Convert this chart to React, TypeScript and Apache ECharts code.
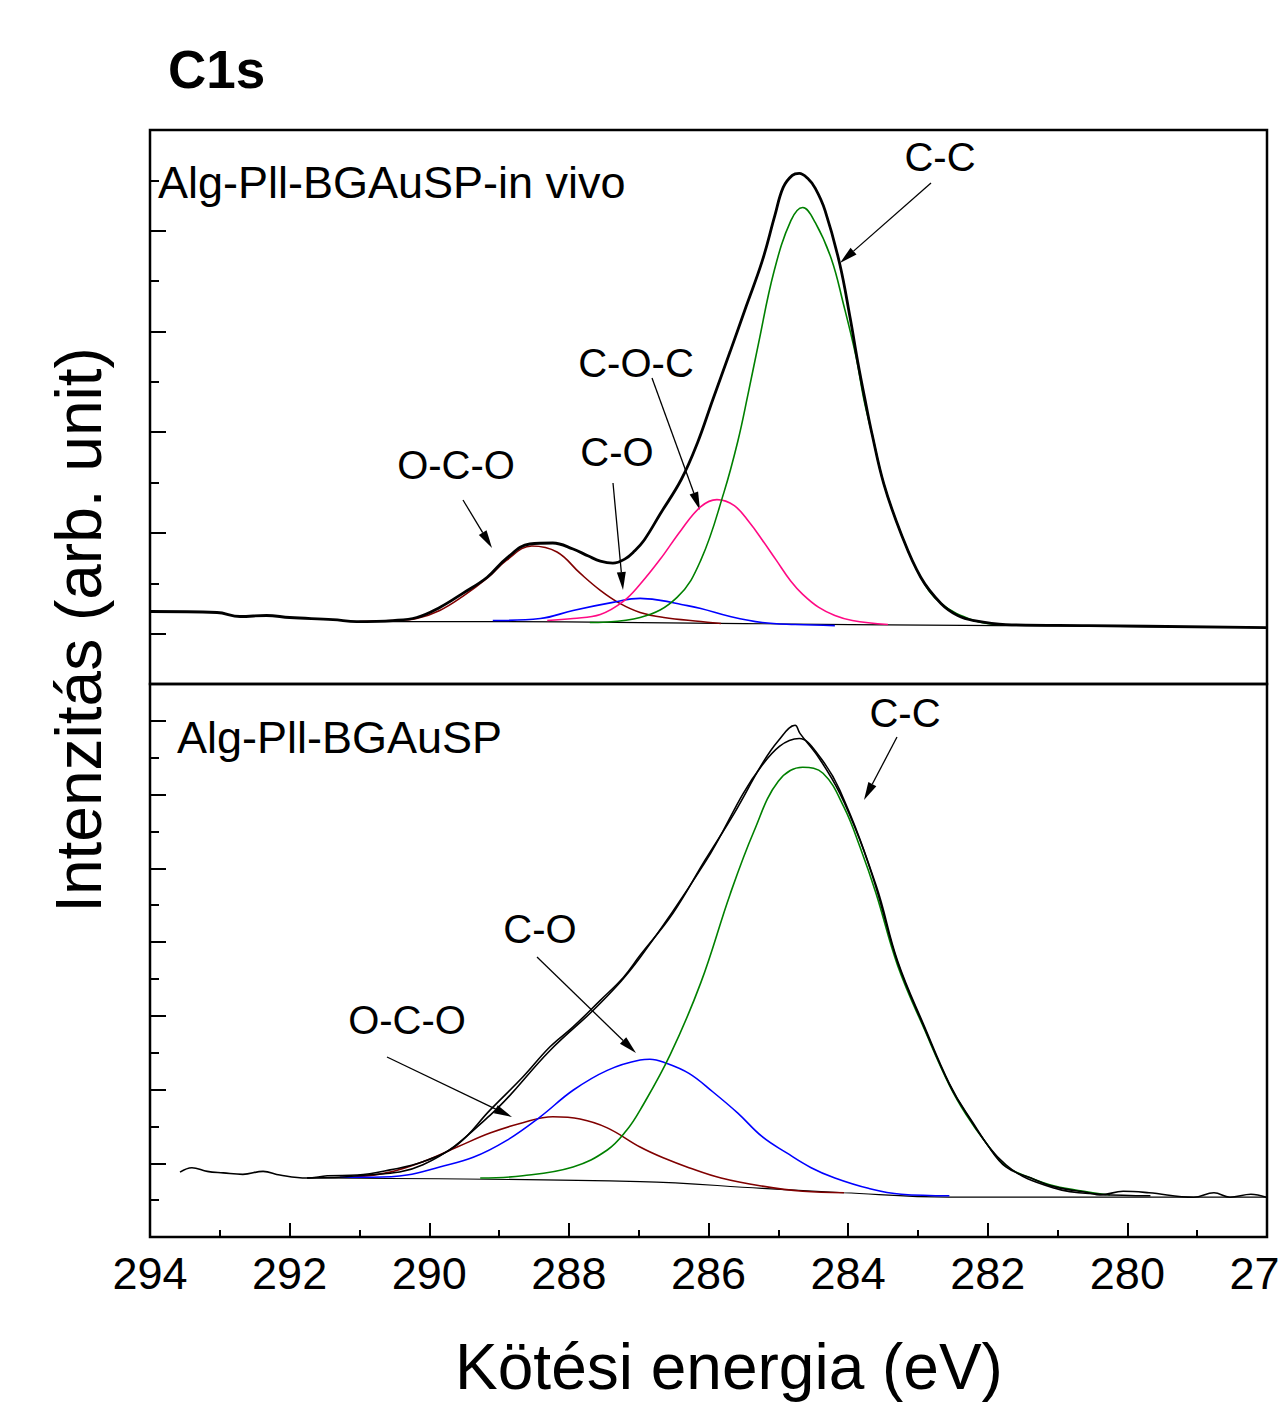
import React, { useEffect, useRef } from "react";
import * as echarts from "echarts";

// ---------- data (binding energy eV, intensity arb. unit) ----------
const xTicks = [294, 292, 290, 288, 286, 284, 282, 280, 278];

// Top panel: Alg-Pll-BGAuSP-in vivo
const topRaw: [number, number][] = [
  [294.0, 0.22], [293.04, 0.21], [292.71, 0.17], [292.33, 0.18], [292.0, 0.16], [291.38, 0.14],
  [291.04, 0.12], [290.52, 0.13], [290.18, 0.16], [289.85, 0.26], [289.52, 0.4], [289.17, 0.56],
  [288.89, 0.75], [288.56, 0.89], [288.23, 0.9], [287.94, 0.84], [287.72, 0.77], [287.55, 0.72],
  [287.37, 0.7], [287.2, 0.74], [287.06, 0.82], [286.92, 0.93], [286.69, 1.19], [286.39, 1.53],
  [286.16, 1.89], [285.94, 2.32], [285.69, 2.8], [285.46, 3.25], [285.23, 3.7], [285.05, 4.15],
  [284.93, 4.43], [284.8, 4.55], [284.7, 4.57], [284.58, 4.52], [284.47, 4.42], [284.33, 4.2],
  [284.12, 3.67], [283.97, 3.13], [283.86, 2.69], [283.74, 2.26], [283.66, 1.99], [283.49, 1.49],
  [283.24, 0.99], [282.96, 0.56], [282.67, 0.3], [282.43, 0.18], [282.2, 0.13], [281.74, 0.09],
  [280.56, 0.08], [278.0, 0.06],
];
const topCC: [number, number][] = [
  [287.7, 0.11], [286.98, 0.16], [286.45, 0.36], [286.11, 0.73], [285.78, 1.4], [285.58, 1.91],
  [285.43, 2.39], [285.29, 2.86], [285.06, 3.6], [284.82, 4.1], [284.65, 4.23], [284.47, 4.08],
  [284.24, 3.72], [284.07, 3.28], [283.89, 2.76], [283.77, 2.31], [283.66, 1.99], [283.49, 1.49],
  [283.24, 0.99], [282.96, 0.56], [282.67, 0.3], [282.2, 0.13], [281.82, 0.09],
];
const topCOC: [number, number][] = [
  [288.31, 0.13], [287.94, 0.15], [287.55, 0.19], [287.22, 0.32], [286.98, 0.49], [286.69, 0.74],
  [286.39, 1.03], [286.11, 1.26], [285.88, 1.33], [285.63, 1.27], [285.41, 1.1], [285.23, 0.93],
  [285.03, 0.73], [284.82, 0.52], [284.65, 0.39], [284.42, 0.26], [284.19, 0.18], [283.94, 0.13],
  [283.43, 0.09],
];
const topCO: [number, number][] = [
  [289.09, 0.13], [288.41, 0.15], [287.94, 0.23], [287.37, 0.31], [286.98, 0.35], [286.69, 0.33],
  [286.39, 0.29], [286.11, 0.25], [285.69, 0.17], [285.23, 0.11], [284.76, 0.09], [284.19, 0.08],
];
const topOCO: [number, number][] = [
  [291.0, 0.12], [290.52, 0.13], [290.18, 0.15], [289.85, 0.23], [289.52, 0.37], [289.17, 0.55],
  [288.89, 0.73], [288.53, 0.87], [288.17, 0.81], [287.84, 0.6], [287.55, 0.43], [287.27, 0.3],
  [286.98, 0.21], [286.64, 0.16], [286.11, 0.12], [285.82, 0.1],
];
const topBg: [number, number][] = [
  [291.0, 0.12], [289.09, 0.12], [286.98, 0.11], [283.97, 0.09], [281.82, 0.08], [278.0, 0.06],
];

// Bottom panel: Alg-Pll-BGAuSP
const botRaw: [number, number][] = [
  [293.57, 0.88], [293.4, 0.94], [293.18, 0.89], [292.95, 0.87], [292.67, 0.85], [292.38, 0.89],
  [292.14, 0.84], [291.75, 0.8], [291.46, 0.83], [291.03, 0.84], [290.56, 0.91], [290.09, 1.02],
  [289.6, 1.25], [289.13, 1.72], [288.66, 2.17], [288.27, 2.58], [287.94, 2.85], [287.55, 3.21],
  [287.22, 3.52], [286.98, 3.82], [286.51, 4.39], [286.05, 5.11], [285.63, 5.75], [285.23, 6.42],
  [285.0, 6.73], [284.76, 6.94], [284.69, 6.83], [284.42, 6.5], [284.12, 6.02], [283.83, 5.38],
  [283.6, 4.74], [283.29, 3.72], [282.9, 2.82], [282.55, 2.07], [282.31, 1.68], [282.02, 1.27],
  [281.74, 0.95], [281.38, 0.8], [281.04, 0.68], [280.56, 0.6], [280.39, 0.57], [280.06, 0.62],
  [279.69, 0.6], [279.05, 0.54], [278.76, 0.6], [278.53, 0.54], [278.23, 0.58], [278.01, 0.54],
];
const botFit: [number, number][] = [
  [291.75, 0.8], [291.03, 0.83], [290.09, 0.98], [289.13, 1.65], [288.27, 2.53], [287.55, 3.17],
  [286.98, 3.79], [286.05, 5.08], [285.23, 6.4], [284.7, 6.76], [284.42, 6.53], [284.12, 6.06],
  [283.6, 4.77], [283.29, 3.74], [282.9, 2.84], [282.55, 2.08], [282.31, 1.69], [281.74, 0.98],
  [281.04, 0.66], [280.39, 0.58], [279.67, 0.56],
];
const botCC: [number, number][] = [
  [289.27, 0.8], [288.66, 0.83], [287.94, 0.95], [287.45, 1.18], [287.17, 1.45], [286.98, 1.72],
  [286.55, 2.47], [286.11, 3.45], [285.69, 4.65], [285.35, 5.5], [285.0, 6.18], [284.65, 6.37],
  [284.36, 6.29], [284.06, 5.83], [283.83, 5.29], [283.6, 4.66], [283.29, 3.68], [282.9, 2.8],
  [282.55, 2.06], [282.31, 1.66], [282.02, 1.27], [281.74, 0.96], [281.38, 0.8], [281.04, 0.69],
  [280.56, 0.61], [280.25, 0.57],
];
const botCO: [number, number][] = [
  [291.28, 0.81], [290.81, 0.81], [290.32, 0.84], [289.85, 0.95], [289.37, 1.08], [288.89, 1.31],
  [288.41, 1.63], [287.94, 1.99], [287.45, 2.26], [286.98, 2.4], [286.84, 2.41], [286.64, 2.37],
  [286.28, 2.22], [285.94, 1.97], [285.58, 1.68], [285.23, 1.36], [284.88, 1.14], [284.53, 0.94],
  [284.19, 0.8], [283.71, 0.66], [283.24, 0.58], [282.55, 0.56],
];
const botOCO: [number, number][] = [
  [291.09, 0.81], [290.56, 0.88], [290.09, 1.02], [289.6, 1.22], [289.13, 1.41], [288.66, 1.55],
  [288.23, 1.63], [287.84, 1.6], [287.45, 1.48], [286.98, 1.22], [286.64, 1.07], [286.28, 0.94],
  [285.82, 0.8], [285.23, 0.69], [284.65, 0.62], [284.06, 0.6],
];
const botBg: [number, number][] = [
  [291.75, 0.8], [286.98, 0.75], [285.23, 0.66], [284.06, 0.6], [282.55, 0.54], [278.01, 0.54],
];

const topMajor = [0, 1, 2, 3, 4];
const topMinor = [0.5, 1.5, 2.5, 3.5, 4.5];
const botMajor = [1, 2, 3, 4, 5, 6, 7];
const botMinor = [0.5, 1.5, 2.5, 3.5, 4.5, 5.5, 6.5];

const FONT = '"Liberation Sans", Arial, sans-serif';

function arrow(x1: number, y1: number, x2: number, y2: number) {
  const dx = x2 - x1, dy = y2 - y1;
  const len = Math.sqrt(dx * dx + dy * dy);
  const ux = dx / len, uy = dy / len;
  const L = 18, W = 4.5;
  const bx = x2 - ux * L, by = y2 - uy * L;
  const px = -uy, py = ux;
  return [
    { type: "line", silent: true, shape: { x1, y1, x2: bx, y2: by }, style: { stroke: "#000", lineWidth: 1.3 } },
    {
      type: "polygon", silent: true,
      shape: { points: [[x2, y2], [bx + px * W, by + py * W], [bx - px * W, by - py * W]] },
      style: { fill: "#000" },
    },
  ];
}

function label(text: string, x: number, y: number, size: number, align = "center", weight = "normal") {
  return {
    type: "text", silent: true, x, y,
    style: {
      text, fill: "#000", font: `${weight} ${size}px ${FONT}`,
      align, verticalAlign: "middle", textAlign: align, textVerticalAlign: "middle",
    },
  };
}

function line(name: string, data: [number, number][], color: string, width: number, xi: number, yi: number) {
  return {
    name, type: "line", data, xAxisIndex: xi, yAxisIndex: yi, showSymbol: false, smooth: 0.4,
    lineStyle: { color, width }, itemStyle: { color }, z: 2,
  };
}

export default function App() {
  const ref = useRef<HTMLDivElement>(null);
  useEffect(() => {
    if (!ref.current) return;
    const chart = echarts.init(ref.current, undefined, { renderer: "svg" });
    const xBase = {
      type: "value", min: xTicks[xTicks.length - 1], max: xTicks[0], interval: 2, inverse: true,
      axisLine: { show: false }, splitLine: { show: false },
    };
    const yBase = {
      type: "value", position: "left", axisLine: { show: false }, splitLine: { show: false },
      axisLabel: { show: false },
    };
    const tick = (vals: number[], len: number) => ({
      show: true, inside: true, length: len, customValues: vals, lineStyle: { color: "#000", width: 2 },
    });
    const gridBase = {
      left: 150, width: 1117, show: true, borderColor: "#000", borderWidth: 2.5,
      backgroundColor: "transparent", containLabel: false, outerBoundsMode: "none",
    };
    chart.setOption({
      animation: false,
      backgroundColor: "#ffffff",
      textStyle: { fontFamily: FONT },
      grid: [
        { ...gridBase, top: 130, height: 554 },
        { ...gridBase, top: 684, height: 553 },
      ],
      xAxis: [
        { ...xBase, gridIndex: 0, axisTick: { show: false }, axisLabel: { show: false } },
        {
          ...xBase, gridIndex: 1,
          axisTick: { show: true, inside: true, length: 14, lineStyle: { color: "#000", width: 2 } },
          minorTick: { show: true, splitNumber: 2, length: 7, lineStyle: { color: "#000", width: 2 } },
          axisLabel: { show: true, color: "#000", fontSize: 45, fontFamily: FONT, margin: 14, hideOverlap: false },
        },
      ],
      yAxis: [
        { ...yBase, gridIndex: 0, min: -0.5, max: 5, axisTick: tick(topMajor, 16) },
        { ...yBase, gridIndex: 0, min: -0.5, max: 5, axisTick: tick(topMinor, 9) },
        { ...yBase, gridIndex: 1, min: 0, max: 7.5, axisTick: tick(botMajor, 16) },
        { ...yBase, gridIndex: 1, min: 0, max: 7.5, axisTick: tick(botMinor, 9) },
      ],
      series: [
        line("top background", topBg, "#000000", 1.2, 0, 0),
        line("top O-C-O", topOCO, "#800000", 1.6, 0, 0),
        line("top C-O", topCO, "#0000ff", 1.6, 0, 0),
        line("top C-O-C", topCOC, "#ff0a84", 1.6, 0, 0),
        line("top C-C", topCC, "#008000", 1.6, 0, 0),
        { ...line("top raw", topRaw, "#000000", 2.8, 0, 0), z: 3 },
        line("bottom background", botBg, "#000000", 1.2, 1, 2),
        line("bottom O-C-O", botOCO, "#800000", 1.6, 1, 2),
        line("bottom C-O", botCO, "#0000ff", 1.6, 1, 2),
        line("bottom C-C", botCC, "#008000", 1.6, 1, 2),
        { ...line("bottom fit", botFit, "#000000", 1.6, 1, 2), z: 3 },
        { ...line("bottom raw", botRaw, "#000000", 1.6, 1, 2), z: 3 },
      ],
      graphic: [
        label("C1s", 168, 69, 53, "left", "bold"),
        label("Alg-Pll-BGAuSP-in vivo", 158, 182, 45, "left"),
        label("C-C", 940, 157, 40),
        label("C-O-C", 636, 363, 40),
        label("C-O", 617, 452, 40),
        label("O-C-O", 456, 465, 40),
        label("Alg-Pll-BGAuSP", 177, 737, 45, "left"),
        label("C-C", 905, 713, 40),
        label("C-O", 540, 929, 40),
        label("O-C-O", 407, 1020, 40),
        ...arrow(931, 183, 840, 263),
        ...arrow(652, 378, 700, 510),
        ...arrow(613, 483, 623, 590),
        ...arrow(463, 500, 492, 548),
        ...arrow(897, 737, 864, 800),
        ...arrow(537, 957, 636, 1053),
        ...arrow(387, 1057, 512, 1117),
        label("Kötési energia (eV)", 729, 1367, 64),
        { ...label("Intenzitás (arb. unit)", 79, 630, 64), rotation: Math.PI / 2 },
      ],
    });
    return () => chart.dispose();
  }, []);
  return (
    <div
      ref={ref}
      style={{ position: "absolute", left: 0, top: 0, width: 1278, height: 1403, background: "#fff" }}
    />
  );
}
